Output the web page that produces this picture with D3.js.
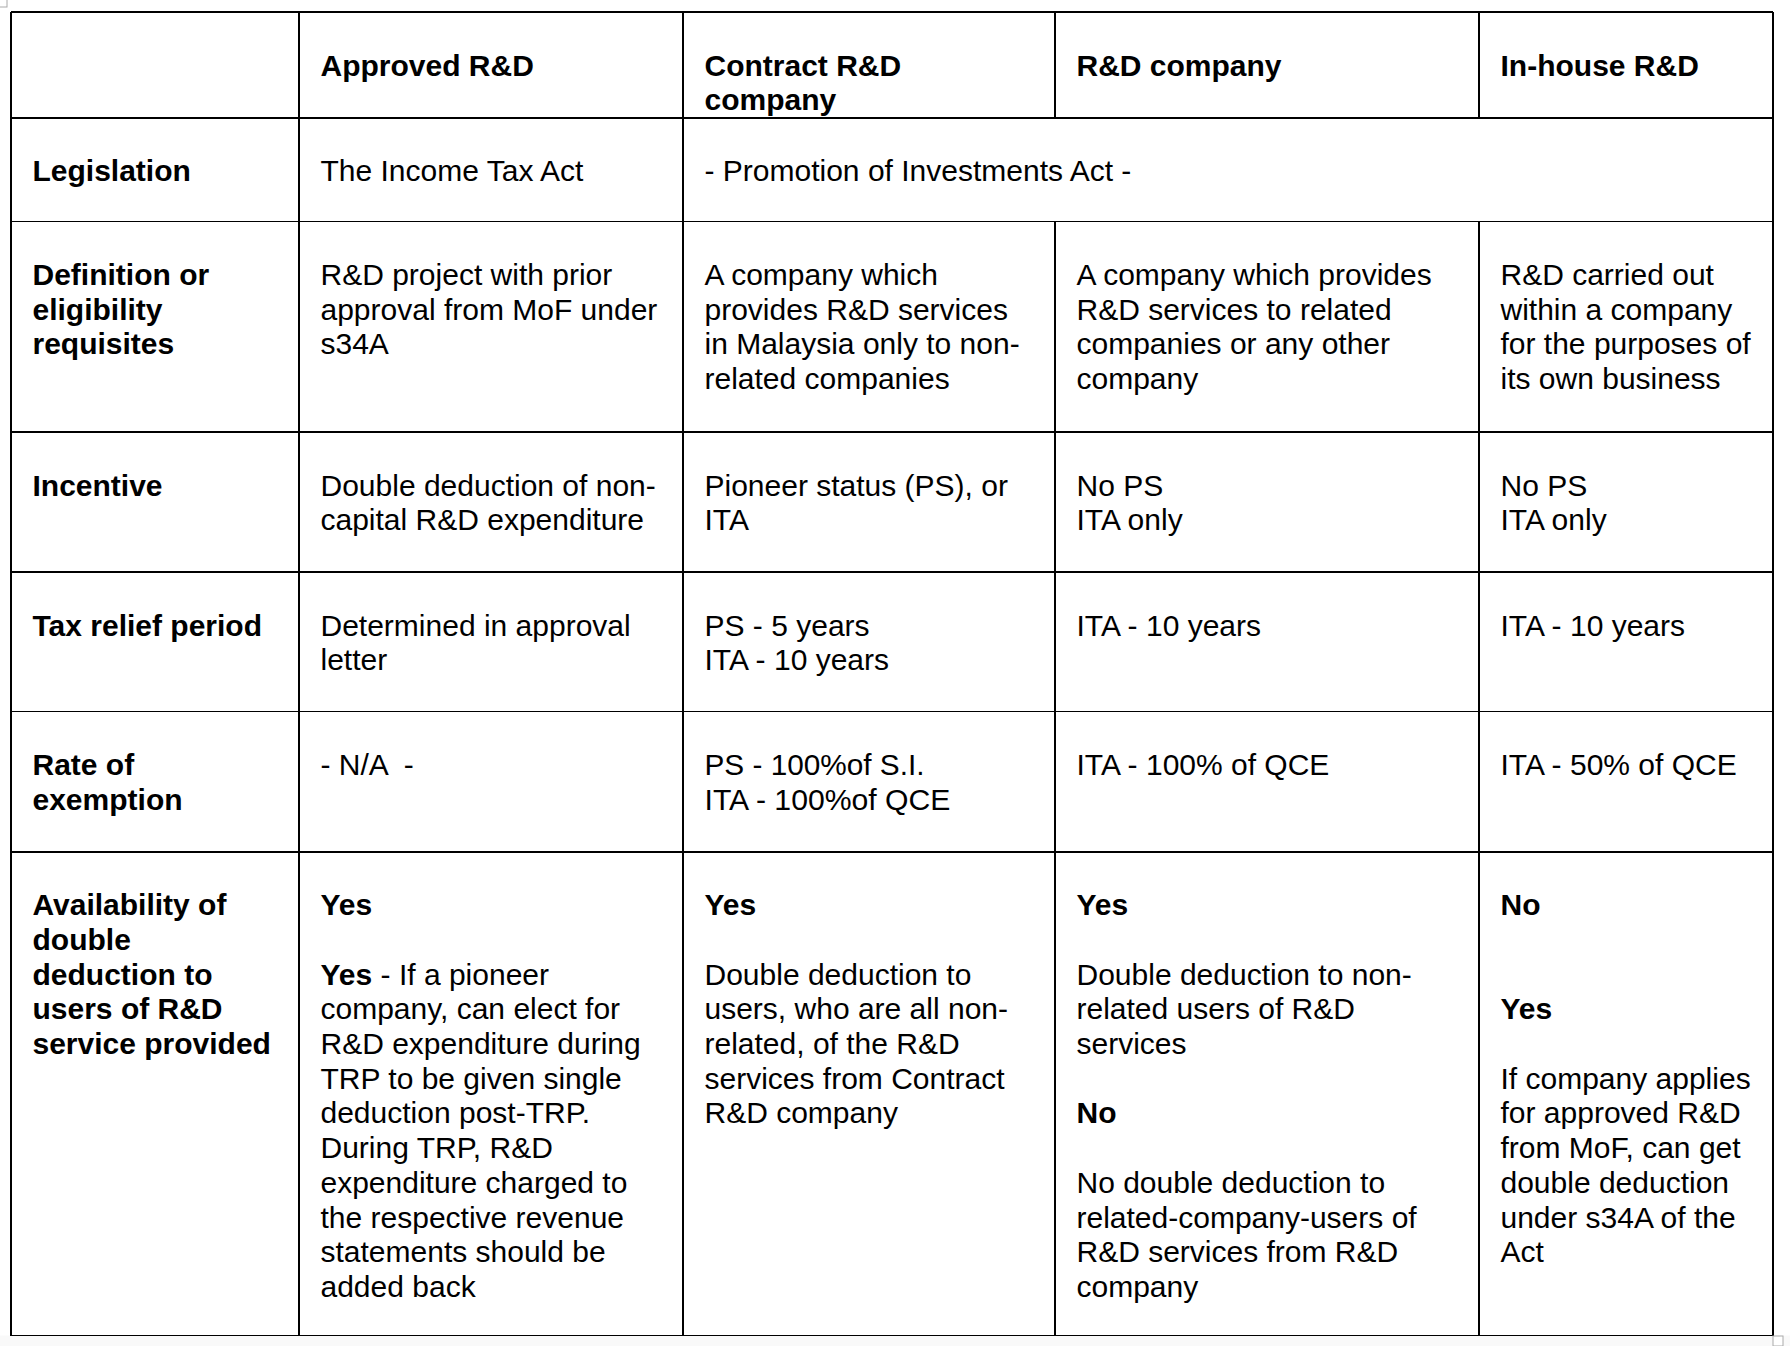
<!DOCTYPE html>
<html>
<head>
<meta charset="utf-8">
<script src="https://cdn.jsdelivr.net/npm/d3@7"></script>
<style>
  html, body { margin: 0; padding: 0; background: #fff; }
  svg { display: block; }
</style>
</head>
<body>
<div id="chart"></div>
<script>
// R&D incentive comparison table, drawn as svg with d3

// header of each column (first one empty)
const columns = ['', 'Approved R&D', 'Contract R&D\ncompany', 'R&D company', 'In-house R&D'];

// label of each row (bold, first column)
const rowLabels = [
  'Legislation',
  'Definition or\neligibility\nrequisites',
  'Incentive',
  'Tax relief period',
  'Rate of\nexemption',
  'Availability of\ndouble\ndeduction to\nusers of R&D\nservice provided'
];

// cell text, one array per row; **x** marks bold runs
const legislation = ['The Income Tax Act', '- Promotion of Investments Act -'];
const definition = [
  'R&D project with prior\napproval from MoF under\ns34A',
  'A company which\nprovides R&D services\nin Malaysia only to non-\nrelated companies',
  'A company which provides\nR&D services to related\ncompanies or any other\ncompany',
  'R&D carried out\nwithin a company\nfor the purposes of\nits own business'
];
const incentive = [
  'Double deduction of non-\ncapital R&D expenditure',
  'Pioneer status (PS), or\nITA',
  'No PS\nITA only',
  'No PS\nITA only'
];
const reliefPeriod = [
  'Determined in approval\nletter',
  'PS - 5 years\nITA - 10 years',
  'ITA - 10 years',
  'ITA - 10 years'
];
const exemptionRate = [
  '- N/A  -',
  'PS - 100%of S.I.\nITA - 100%of QCE',
  'ITA - 100% of QCE',
  'ITA - 50% of QCE'
];
const availability = [
  '**Yes**\n\n**Yes** - If a pioneer\ncompany, can elect for\nR&D expenditure during\nTRP to be given single\ndeduction post-TRP.\nDuring TRP, R&D\nexpenditure charged to\nthe respective revenue\nstatements should be\nadded back',
  '**Yes**\n\nDouble deduction to\nusers, who are all non-\nrelated, of the R&D\nservices from Contract\nR&D company',
  '**Yes**\n\nDouble deduction to non-\nrelated users of R&D\nservices\n\n**No**\n\nNo double deduction to\nrelated-company-users of\nR&D services from R&D\ncompany',
  '**No**\n\n\n**Yes**\n\nIf company applies\nfor approved R&D\nfrom MoF, can get\ndouble deduction\nunder s34A of the\nAct'
];

// ---- layout ----
const W = 1790, H = 1346;
const colEdges = [11, 299, 683, 1055, 1479, 1773];
const rowEdges = [12, 117.7, 221.3, 432, 572, 711.5, 851.7, 1335.5];
const padX = 21.5;
const firstBase = 63.5;
const lineH = 34.7;
const fontSize = 30;

const svg = d3.select('#chart').append('svg')
  .attr('width', W)
  .attr('height', H)
  .style('font-family', '"Liberation Sans", Arial, Helvetica, sans-serif')
  .style('font-size', fontSize + 'px');

// faint page below the table
svg.append('rect')
  .attr('x', 0).attr('y', rowEdges[rowEdges.length - 1])
  .attr('width', W).attr('height', H - rowEdges[rowEdges.length - 1])
  .attr('fill', '#f9f9f9');

svg.append('rect')
  .attr('x', colEdges[0]).attr('y', rowEdges[0])
  .attr('width', colEdges[5] - colEdges[0])
  .attr('height', rowEdges[7] - rowEdges[0])
  .attr('fill', '#fff');

// build cell list: {row, col, span, text, bold}
const cells = [];
columns.forEach((c, j) => cells.push({ row: 0, col: j, span: 1, text: c, bold: true }));
const bodyRows = [legislation, definition, incentive, reliefPeriod, exemptionRate, availability];
bodyRows.forEach((vals, i) => {
  cells.push({ row: i + 1, col: 0, span: 1, text: rowLabels[i], bold: true });
  if (vals.length === 2) {
    cells.push({ row: i + 1, col: 1, span: 1, text: vals[0] });
    cells.push({ row: i + 1, col: 2, span: 3, text: vals[1] });
  } else {
    vals.forEach((v, j) => cells.push({ row: i + 1, col: j + 1, span: 1, text: v }));
  }
});

// split "**bold** rest" into runs
function runs(line, allBold) {
  const parts = line.split('**');
  return parts.map((t, k) => ({ t, b: allBold || k % 2 === 1 })).filter(p => p.t.length);
}

const textG = svg.append('g').attr('fill', '#000');

cells.forEach(c => {
  const x0 = colEdges[c.col] + padX;
  const y0 = rowEdges[c.row] + firstBase;
  // this cell is set in a narrower face in the original
  const condensed = c.row === 5 && c.col === 2;
  c.text.split('\n').forEach((line, k) => {
    if (!line) return;
    const t = textG.append('text')
      .attr('x', x0)
      .attr('y', y0 + k * lineH)
      .style('white-space', 'pre');
    runs(line, c.bold).forEach(r => {
      t.append('tspan')
        .attr('font-weight', r.b ? 'bold' : 'normal')
        .text(r.t);
    });
    if (condensed) {
      const w = line.startsWith('PS') ? 220 : 246;
      t.attr('textLength', w).attr('lengthAdjust', 'spacingAndGlyphs');
    }
  });
});

// grid lines
const grid = svg.append('g')
  .attr('stroke', '#000')
  .attr('stroke-width', 1.6)
  .attr('shape-rendering', 'crispEdges');

grid.selectAll('.hline')
  .data(rowEdges)
  .enter().append('line')
  .attr('class', 'hline')
  .attr('x1', colEdges[0]).attr('x2', colEdges[5])
  .attr('y1', d => d).attr('y2', d => d);

// vertical lines; inner lines of cols 3 and 4 skip the Legislation row
colEdges.forEach((x, j) => {
  if (j === 3 || j === 4) {
    grid.append('line').attr('x1', x).attr('x2', x).attr('y1', rowEdges[0]).attr('y2', rowEdges[1]);
    grid.append('line').attr('x1', x).attr('x2', x).attr('y1', rowEdges[2]).attr('y2', rowEdges[7]);
  } else {
    grid.append('line').attr('x1', x).attr('x2', x).attr('y1', rowEdges[0]).attr('y2', rowEdges[7]);
  }
});

// small handle marks in the corners
svg.append('rect').attr('x', -1).attr('y', -1).attr('width', 8).attr('height', 8)
  .attr('fill', '#fff').attr('stroke', '#aaa');
svg.append('rect').attr('x', 1773).attr('y', 1336).attr('width', 10).attr('height', 10)
  .attr('fill', '#fff').attr('stroke', '#aaa');
</script>
</body>
</html>
